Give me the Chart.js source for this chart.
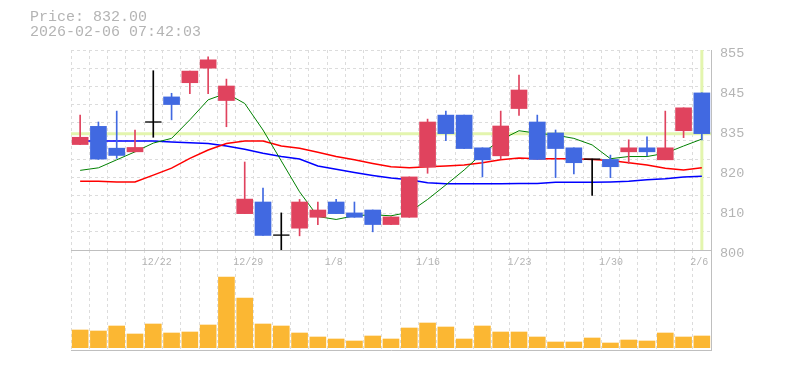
<!DOCTYPE html>
<html>
<head>
<meta charset="utf-8">
<script src="https://cdn.jsdelivr.net/npm/chart.js@4.4.1/dist/chart.umd.min.js"></script>
<style>
  body { margin: 0; background: #fff; }
  #wrap { position: relative; width: 785px; height: 370px; }
  #wrap canvas { position: absolute; left: 0; top: 0; }
  #header { position: absolute; left: 30px; top: 10px; font: 15px/15px 'Liberation Mono', monospace; color: #b4b4b4; white-space: pre; }
</style>
</head>
<body>
<div id="wrap">
  <canvas id="volumeChart" width="785" height="370"></canvas>
  <canvas id="priceChart" width="785" height="370"></canvas>
  <div id="header"><div id="priceText"></div><div id="timeText"></div></div>
</div>
<script>
const currentPrice = 832;
const timestamp = '2026-02-06 07:42:03';

const dates = ['12/16', '12/17', '12/18', '12/19', '12/22', '12/23', '12/24', '12/25', '12/26', '12/29',
  '12/30', '1/5', '1/6', '1/7', '1/8', '1/9', '1/13', '1/14', '1/15', '1/16',
  '1/19', '1/20', '1/21', '1/22', '1/23', '1/26', '1/27', '1/28', '1/29', '1/30',
  '2/2', '2/3', '2/4', '2/5', '2/6'];
const dateTickLabels = ['12/22', '12/29', '1/8', '1/16', '1/23', '1/30', '2/6'];

const opens = [829, 834, 828, 827, 835.2, 842.1, 846, 850, 841.1, 810,
  813.2, 804.1, 806, 809, 813.2, 810.2, 811, 807, 809, 822.8,
  837.1, 837.1, 828.1, 825.9, 838.9, 835.2, 832.2, 828.1, 825, 824.9,
  827, 828.1, 824.8, 832.8, 843.2];
const highs = [837.1, 835.2, 838.2, 833, 849.3, 843.1, 849.2, 853.1, 847, 824.2,
  817, 810.2, 813.9, 813.2, 813.9, 813.2, 811, 809.1, 820.1, 836,
  838.2, 837.1, 828.1, 838.2, 848.1, 837.1, 833, 828.1, 825, 826.1,
  830.3, 831.1, 838.2, 839.1, 843.2];
const lows = [829, 824.9, 825.2, 827, 831, 835.8, 843, 843, 833.9, 810,
  804, 800, 803.9, 807, 810, 809, 805, 807, 809, 821.1,
  830.1, 827.9, 820.1, 825, 837, 824.9, 819.9, 820.9, 815, 819.9,
  823.8, 825.9, 824.8, 830.9, 830.3];
const closes = [831, 825, 826, 828.2, 835.2, 840, 849.2, 852.3, 845.1, 814,
  804, 804.1, 813.2, 811, 810, 809, 807, 809.1, 820.1, 835.2,
  832, 827.9, 824.8, 834.1, 844, 824.9, 827.9, 824, 825, 822.9,
  828.1, 827, 828.1, 839.1, 832];

// moving averages (short / middle / long)
const maShort = [821.9, 822.6, 824.8, 827, 829.4, 830.7, 835.8, 841.3, 843.1, 840.3,
  833, 824.5, 816, 809.2, 808.4, 809.4, 809.7, 809.4, 810.4, 813.9,
  817.9, 822, 826.6, 830.3, 832.8, 832.1, 831.6, 830.7, 828.9, 825.1,
  825.7, 825.7, 826.6, 828.6, 830.5];
const maMiddle = [818.9, 818.9, 818.7, 818.7, 820.6, 822.5, 825.2, 827.5, 829.3, 830,
  830, 828.6, 828, 826.9, 825.7, 824.8, 823.8, 822.9, 822.6, 822.9,
  823.1, 823.4, 824, 824.8, 825.3, 825.1, 825.1, 825.1, 824.9, 824.6,
  824, 823.4, 822.5, 822, 822.6];
const maLong = [830, 830, 830, 830, 830, 829.7, 829.5, 829.3, 828.6, 827.7,
  826.6, 825.7, 825, 823.1, 822.2, 821.3, 820.5, 819.8, 819.3, 818.5,
  818.2, 818.2, 818.2, 818.2, 818.3, 818.3, 818.6, 818.6, 818.6, 818.7,
  818.9, 819.3, 819.6, 820.1, 820.3];

const volumes = [177, 167, 217, 137, 237, 147, 157, 227, 707, 497,
  237, 217, 147, 107, 87, 67, 117, 87, 197, 247,
  207, 87, 217, 157, 157, 107, 57, 57, 97, 47,
  77, 67, 147, 107, 117];

const priceTickValues = [855, 844, 833, 822, 811, 800];
const priceTickLabels = ['855', '845', '835', '820', '810', '800'];

const UP = '#e0435e';
const DOWN = '#4169e1';
const FLAT = '#000000';
const GRID = '#dcdcdc';
const AXIS = '#bfbfbf';
const TEXT = '#b4b4b4';
const MONO = "'Liberation Mono', 'DejaVu Sans Mono', monospace";

document.getElementById('priceText').textContent = 'Price: ' + currentPrice.toFixed(2);
document.getElementById('timeText').textContent = timestamp;

function candleColor(i) {
  if (closes[i] > opens[i]) return UP;
  if (closes[i] < opens[i]) return DOWN;
  return FLAT;
}
const colors = dates.map((d, i) => candleColor(i));

// current price line + latest day line, under the candles
const highlight = {
  id: 'highlight',
  beforeDatasetsDraw(chart) {
    const { ctx, chartArea: a, scales } = chart;
    const y = scales.y.getPixelForValue(currentPrice);
    const x = scales.x.getPixelForValue(dates.length - 1);
    ctx.save();
    ctx.strokeStyle = '#e3f5ae';
    ctx.lineWidth = 3;
    ctx.beginPath();
    ctx.moveTo(a.left, y);
    ctx.lineTo(a.right, y);
    ctx.moveTo(x, a.top);
    ctx.lineTo(x, a.bottom);
    ctx.stroke();
    ctx.restore();
  }
};

new Chart(document.getElementById('volumeChart'), {
  type: 'bar',
  data: {
    labels: dates,
    datasets: [{ data: volumes, backgroundColor: '#fbb733', barThickness: 16 }]
  },
  options: {
    responsive: false,
    animation: false,
    events: [],
    layout: { padding: { left: 71, top: 250, right: 0, bottom: 0 } },
    plugins: { legend: { display: false }, tooltip: { enabled: false } },
    scales: {
      x: {
        offset: true,
        grid: { color: GRID, offset: true, drawTicks: false },
        border: { display: true, color: AXIS, width: 1, dash: [3, 3] },
        ticks: { display: false },
        afterFit: s => { s.height = 20; }
      },
      y: {
        position: 'right',
        min: -23,
        max: 977,
        grid: { display: false, drawTicks: false },
        border: { display: true, color: AXIS, width: 1 },
        ticks: { display: false },
        afterFit: s => { s.width = 74; }
      }
    }
  }
});

new Chart(document.getElementById('priceChart'), {
  type: 'bar',
  data: {
    labels: dates,
    datasets: [
      {
        type: 'bar',
        data: opens.map((o, i) => [o, closes[i]]),
        backgroundColor: colors,
        barThickness: 16,
        grouped: false,
        yAxisID: 'y',
        order: 1
      },
      {
        type: 'line',
        data: dates.map((d, i) => opens[i] === closes[i] ? closes[i] : null),
        showLine: false,
        pointStyle: 'line',
        pointRadius: 8,
        pointBorderColor: FLAT,
        pointBackgroundColor: FLAT,
        pointBorderWidth: 1,
        yAxisID: 'y',
        order: 0
      },
      {
        type: 'bar',
        data: lows.map((l, i) => [l, highs[i]]),
        backgroundColor: colors,
        barThickness: 1,
        grouped: false,
        yAxisID: 'y',
        order: 2
      },
      { type: 'line', data: maShort, borderColor: '#008000', borderWidth: 1, pointRadius: 0, yAxisID: 'y', order: 3 },
      { type: 'line', data: maMiddle, borderColor: '#ff0000', borderWidth: 1.5, pointRadius: 0, yAxisID: 'y', order: 3 },
      { type: 'line', data: maLong, borderColor: '#0000ff', borderWidth: 1.5, pointRadius: 0, yAxisID: 'y', order: 3 }
    ]
  },
  options: {
    responsive: false,
    animation: false,
    events: [],
    layout: { padding: { left: 71, top: 50, right: 0, bottom: 0 } },
    plugins: { legend: { display: false }, tooltip: { enabled: false } },
    scales: {
      x: {
        offset: true,
        grid: { color: GRID, offset: true, drawTicks: false },
        border: { display: true, color: AXIS, width: 1, dash: [3, 3] },
        ticks: {
          autoSkip: false,
          maxRotation: 0,
          align: 'start',
          labelOffset: -11.5,
          padding: 6,
          color: TEXT,
          font: { family: MONO, size: 10 },
          callback: (v, i) => dateTickLabels.includes(dates[i]) ? dates[i] : ''
        },
        afterFit: s => { s.height = 120; }
      },
      yGrid: {
        position: 'left',
        min: 800,
        max: 855,
        ticks: { display: false, stepSize: 5 },
        grid: { color: GRID, drawTicks: false },
        border: { display: false, dash: [3, 3] },
        afterFit: s => { s.width = 0; }
      },
      y: {
        position: 'right',
        min: 800,
        max: 855,
        grid: { display: false, drawTicks: false },
        border: { display: true, color: AXIS, width: 1 },
        afterBuildTicks: s => { s.ticks = priceTickValues.map(v => ({ value: v })); },
        ticks: {
          autoSkip: false,
          padding: 9,
          labelOffset: 3.5,
          color: TEXT,
          font: { family: MONO, size: 13.5 },
          callback: (v, i) => priceTickLabels[i]
        },
        afterFit: s => { s.width = 74; }
      }
    }
  },
  plugins: [highlight]
});
</script>
</body>
</html>
